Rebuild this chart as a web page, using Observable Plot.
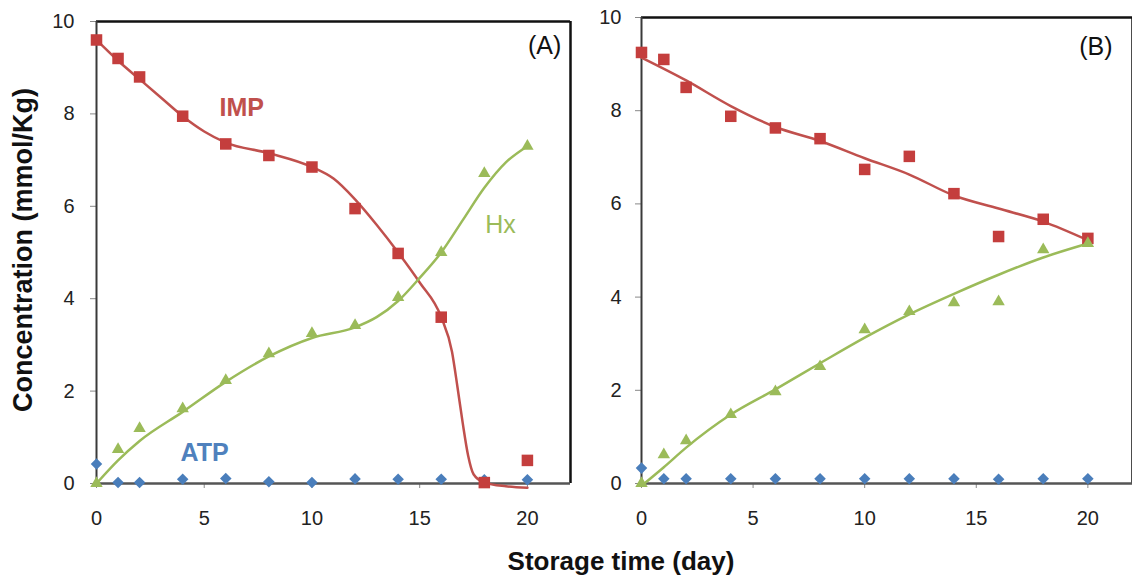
<!DOCTYPE html>
<html>
<head>
<meta charset="utf-8">
<script src="https://cdn.jsdelivr.net/npm/d3@7"></script>
<script src="https://cdn.jsdelivr.net/npm/@observablehq/plot@0.6"></script>
<style>
  html, body { margin: 0; padding: 0; background: #fff; }
  #root { position: relative; width: 1132px; height: 576px; overflow: hidden; background: #fff;
          font-family: "Liberation Sans", Arial, sans-serif; }
  #pa { position: absolute; left: 0; top: 0; }
  #pb { position: absolute; left: 580px; top: 0; }
  .title { position: absolute; font-weight: bold; font-size: 26px; line-height: 26px; color: #111; white-space: nowrap; }
  #xt { left: 621px; top: 548px; transform: translateX(-50%); }
  #yt { left: 23px; top: 250px; font-size: 27px; transform: translate(-50%, -50%) rotate(-90deg); }
</style>
</head>
<body>
<div id="root">
  <div id="pa"></div>
  <div id="pb"></div>
  <div class="title" id="xt">Storage time (day)</div>
  <div class="title" id="yt">Concentration (mmol/Kg)</div>
</div>
<script>
// ---- measured data (days of storage) ----
const days = [0, 1, 2, 4, 6, 8, 10, 12, 14, 16, 18, 20];
const xTicks = [0, 5, 10, 15, 20];
const yTicks = [0, 2, 4, 6, 8, 10];

// Panel (A)
const impA = [9.6, 9.2, 8.8, 7.95, 7.35, 7.1, 6.85, 5.95, 4.98, 3.6, 0.02, 0.5];
const hxA  = [0, 0.74, 1.19, 1.62, 2.23, 2.81, 3.25, 3.42, 4.03, 5.0, 6.71, 7.3];
const atpA = [0.42, 0.02, 0.02, 0.09, 0.11, 0.04, 0.02, 0.1, 0.09, 0.09, 0.08, 0.08];

// Panel (B)
const impB = [9.25, 9.1, 8.5, 7.88, 7.63, 7.4, 6.74, 7.02, 6.22, 5.3, 5.67, 5.26];
const hxB  = [0, 0.62, 0.92, 1.48, 1.97, 2.51, 3.3, 3.69, 3.88, 3.9, 5.02, 5.15];
const atpB = [0.33, 0.1, 0.1, 0.1, 0.1, 0.1, 0.1, 0.1, 0.1, 0.09, 0.1, 0.1];

// Fitted trend curves
const fitImpAx = [0, 1, 2, 3, 4, 5, 6, 8, 10, 11, 12, 13, 14, 15, 16, 16.5, 16.75, 17, 17.25, 17.5, 18, 19, 20];
const fitImpAy = [9.6, 9.15, 8.75, 8.35, 7.95, 7.62, 7.38, 7.15, 6.85, 6.6, 6.15, 5.6, 5.0, 4.35, 3.6, 2.85, 2.1, 1.3, 0.6, 0.2, 0.02, -0.06, -0.09];
const fitHxAx  = [0, 1, 2, 4, 6, 8, 10, 12, 13, 14, 15, 16, 17, 18, 19, 20];
const fitHxAy  = [0, 0.5, 0.92, 1.55, 2.2, 2.75, 3.15, 3.38, 3.6, 3.95, 4.45, 5.0, 5.7, 6.4, 6.95, 7.3];
const fitImpBx = [0, 2, 4, 6, 8, 10, 12, 14, 16, 18, 20];
const fitImpBy = [9.14, 8.65, 8.1, 7.65, 7.35, 6.98, 6.63, 6.18, 5.9, 5.62, 5.22];
const fitHxBx  = [0, 1, 2, 4, 6, 8, 10, 12, 14, 16, 18, 20];
const fitHxBy  = [-0.05, 0.35, 0.77, 1.48, 2.02, 2.58, 3.13, 3.63, 4.07, 4.48, 4.85, 5.15];

// Series labels
const seriesNames = ["IMP", "Hx", "ATP"];
const panelNames = ["(A)", "(B)"];

const RED = "#C0504D", RED_M = "#C43E3D", GREEN = "#9BBB59", BLUE = "#4F81BD", BLUE_M = "#4A7EBB";
const FONT = "'Liberation Sans', Arial, sans-serif";

const pts = (xs, ys) => xs.map((x, i) => ({x, y: ys[i]}));

function panel({imp, hx, atp, fitImp, fitHx, width, marginLeft, marginRight, marginTop, yPad, labels}) {
  return Plot.plot({
    width, height: 540, marginLeft, marginRight, marginTop, marginBottom: 57,
    x: {domain: [0, 22]},
    y: {domain: [0, 10]},
    style: {fontFamily: FONT, fontSize: "20px", color: "#222", background: "transparent", overflow: "visible"},
    marks: [
      Plot.axisY({ticks: yTicks, tickSize: 6, tickPadding: yPad, label: null, fontSize: 20, stroke: "#888", fill: "#222"}),
      Plot.axisX({ticks: xTicks, tickSize: 5, tickPadding: 22, label: null, fontSize: 20, stroke: "#888", fill: "#222"}),
      Plot.ruleY([10], {stroke: "#111", strokeWidth: 2.5}),
      Plot.ruleX([22], {stroke: "#111", strokeWidth: 2.5}),
      Plot.ruleX([0], {stroke: "#3a3a3a", strokeWidth: 2}),
      Plot.ruleY([0], {stroke: "#555", strokeWidth: 2.5}),
      Plot.line(fitImp, {x: "x", y: "y", curve: "monotone-x", stroke: RED, strokeWidth: 2.5}),
      Plot.line(fitHx, {x: "x", y: "y", curve: "monotone-x", stroke: GREEN, strokeWidth: 2.5}),
      Plot.dot(pts(days, atp), {x: "x", y: "y", symbol: "diamond2", r: 5.2, fill: BLUE_M, stroke: "none"}),
      Plot.dot(pts(days, imp), {x: "x", y: "y", symbol: "square", r: 6.5, fill: RED_M, stroke: "none"}),
      Plot.dot(pts(days, hx), {x: "x", y: "y", symbol: "triangle", r: 4.6, fill: GREEN, stroke: "none"}),
      ...labels
    ]
  });
}

const labelsA = [
  Plot.text([seriesNames[0]], {x: 6.74, y: 8.12, text: d => d, fill: RED, fontWeight: "bold", fontSize: 25, lineAnchor: "middle"}),
  Plot.text([seriesNames[1]], {x: 18.75, y: 5.6, text: d => d, fill: GREEN, fontSize: 25, lineAnchor: "middle"}),
  Plot.text([seriesNames[2]], {x: 5.02, y: 0.67, text: d => d, fill: BLUE, fontWeight: "bold", fontSize: 25, lineAnchor: "middle"}),
  Plot.text([panelNames[0]], {x: 20.8, y: 9.48, text: d => d, fill: "#111", fontSize: 25, lineAnchor: "middle"})
];
const labelsB = [
  Plot.text([panelNames[1]], {x: 20.36, y: 9.36, text: d => d, fill: "#111", fontSize: 25, lineAnchor: "middle"})
];

document.getElementById("pa").append(panel({
  imp: impA, hx: hxA, atp: atpA,
  fitImp: pts(fitImpAx, fitImpAy), fitHx: pts(fitHxAx, fitHxAy),
  width: 580, marginLeft: 96, marginRight: 10, marginTop: 21, yPad: 16, labels: labelsA
}));
document.getElementById("pb").append(panel({
  imp: impB, hx: hxB, atp: atpB,
  fitImp: pts(fitImpBx, fitImpBy), fitHx: pts(fitHxBx, fitHxBy),
  width: 552, marginLeft: 61, marginRight: 0, marginTop: 17, yPad: 14, labels: labelsB
}));
</script>
</body>
</html>
